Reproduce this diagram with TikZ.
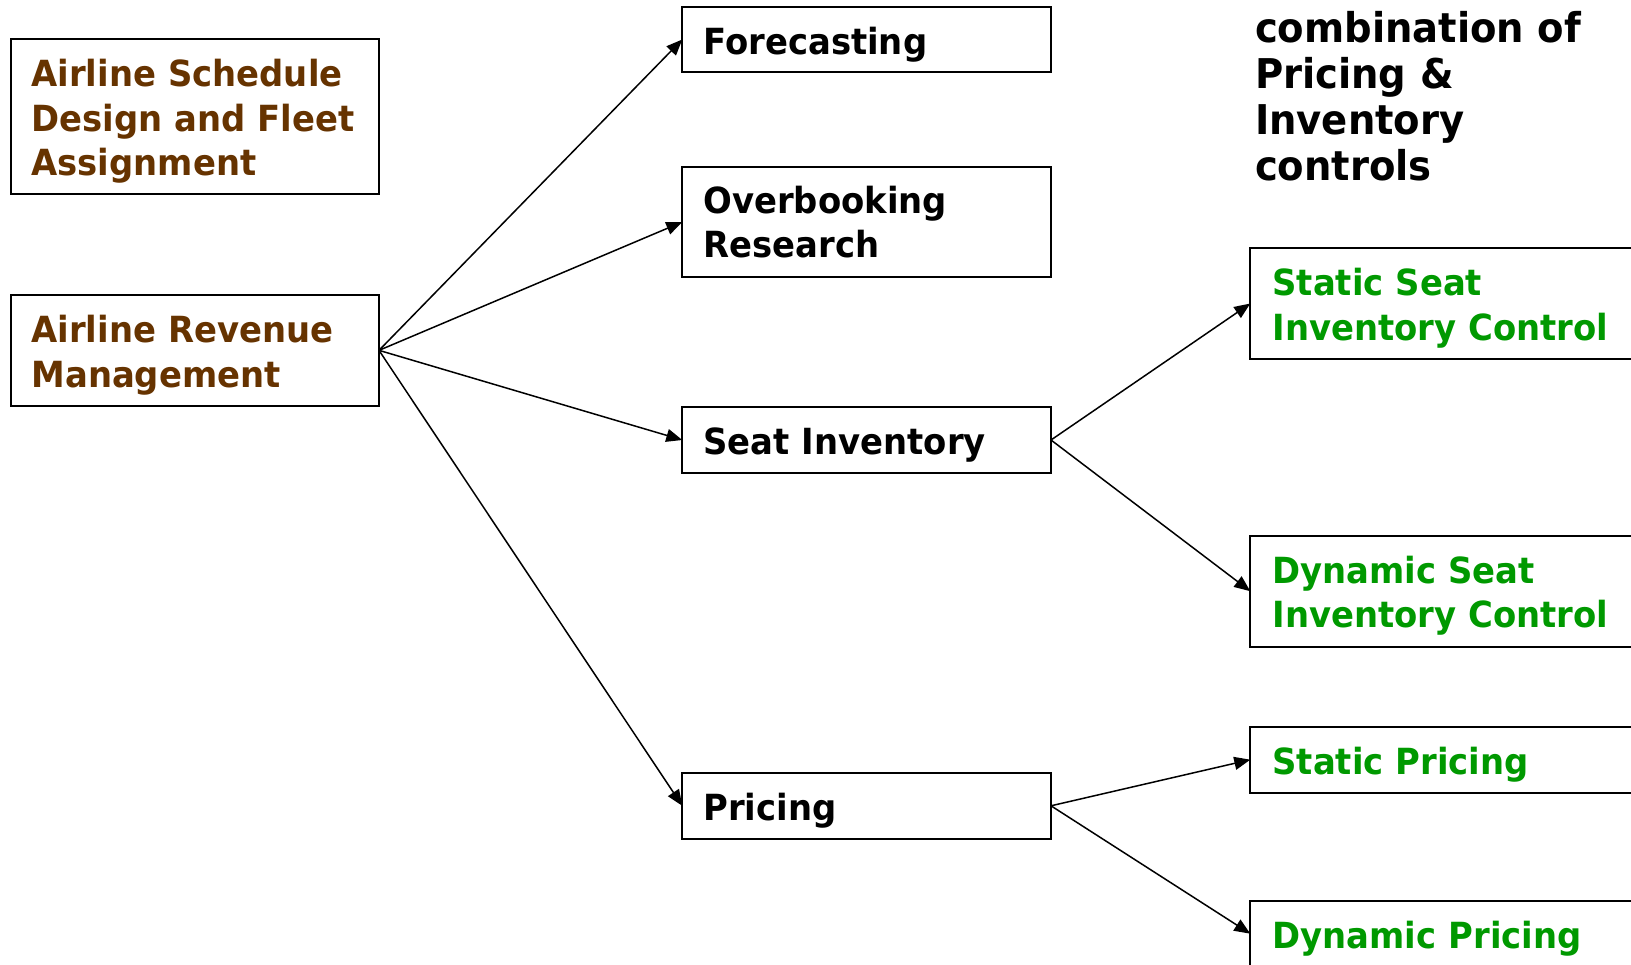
\documentclass[tikz,border=0pt]{standalone}
\usepackage{fontspec}
\setmainfont{DejaVu Sans}[FakeStretch=0.94]
\usetikzlibrary{arrows.meta}
\definecolor{rmbrown}{HTML}{663300}
\definecolor{rmgreen}{HTML}{009900}
\tikzset{
  box/.style={draw=black, line width=2.2pt, rectangle, inner sep=0pt, outer sep=0pt},
  label/.style={anchor=base west, inner sep=0pt, outer sep=0pt, align=left,
    text width=420pt, font=\fontsize{36}{44.6}\selectfont\bfseries},
  bigtext/.style={anchor=base west, inner sep=0pt, outer sep=0pt, align=left,
    text width=400pt, font=\fontsize{41}{46.1}\selectfont\bfseries},
  link/.style={line width=1.5pt, -{Triangle[length=16pt,width=13pt]}}
}
\begin{document}
\begin{tikzpicture}[x=1pt,y=-1pt]
\useasboundingbox (0,0) rectangle (1631,965);
\clip (0,0) rectangle (1631,965);
\fill[white] (0,0) rectangle (1631,965);

% left column
\node[box, minimum width=368.3pt, minimum height=155pt] (sched) at (194.85,116.5) {};
\node[box, minimum width=368.3pt, minimum height=110.7pt] (rev) at (194.85,350.35) {};
\node[label, text=rmbrown] (schedtxt) at (31.5,86.7) {Airline Schedule\\Design and Fleet\\Assignment};
\node[label, text=rmbrown] (revtxt) at (31.5,342.7) {Airline Revenue\\Management};

% middle column
\node[box, minimum width=368.7pt, minimum height=65.6pt] (fore) at (866.65,39.5) {};
\node[box, minimum width=368.7pt, minimum height=110.6pt] (over) at (866.65,222) {};
\node[box, minimum width=368.7pt, minimum height=66.3pt] (seat) at (866.65,440) {};
\node[box, minimum width=368.7pt, minimum height=66.3pt] (price) at (866.65,805.8) {};
\node[label] (foretxt) at (703.5,55) {Forecasting};
\node[label] (overtxt) at (703.5,213.3) {Overbooking\\Research};
\node[label] (seattxt) at (703.5,454) {Seat Inventory};
\node[label] (pricetxt) at (703.5,820.7) {Pricing};

% right column (boxes run past the right edge)
\node[box, minimum width=399.7pt, minimum height=110.4pt] (sseat) at (1450.15,303.5) {};
\node[box, minimum width=399.7pt, minimum height=111pt] (dseat) at (1450.15,591.2) {};
\node[box, minimum width=399.7pt, minimum height=66pt] (sprice) at (1450.15,759.7) {};
\node[box, minimum width=399.7pt, minimum height=66pt] (dprice) at (1450.15,933.7) {};
\node[label, text=rmgreen] (sseattxt) at (1272.5,295.7) {Static Seat\\Inventory Control};
\node[label, text=rmgreen] (dseattxt) at (1272.5,583.3) {Dynamic Seat\\Inventory Control};
\node[label, text=rmgreen] (spricetxt) at (1272.5,774) {Static Pricing};
\node[label, text=rmgreen] (dpricetxt) at (1272.5,948.3) {Dynamic Pricing};

% heading text, top right
\node[bigtext] (heading) at (1255,42.7) {combination of\\Pricing \&\\Inventory\\controls};

% connectors
\draw[link] (rev.east) -- (fore.west);
\draw[link] (rev.east) -- (over.west);
\draw[link] (rev.east) -- (seat.west);
\draw[link] (rev.east) -- (price.west);
\draw[link] (seat.east) -- (sseat.west);
\draw[link] (seat.east) -- (dseat.west);
\draw[link] (price.east) -- (sprice.west);
\draw[link] (price.east) -- (dprice.west);
\end{tikzpicture}
\end{document}
